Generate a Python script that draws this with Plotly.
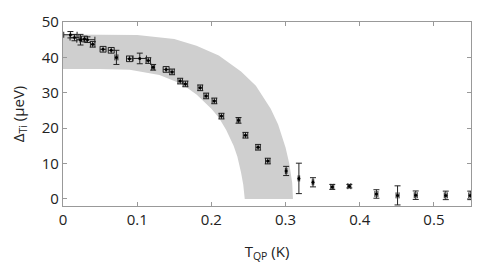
import plotly.graph_objects as go

# Measured points
t_qp = [0.010, 0.0155, 0.0236, 0.029, 0.033, 0.040, 0.054, 0.065, 0.072, 0.0896, 0.1035,
        0.115, 0.1215, 0.139, 0.147, 0.158, 0.165, 0.185, 0.193, 0.204, 0.2136, 0.2366,
        0.246, 0.263, 0.276, 0.3008, 0.318, 0.337, 0.363, 0.386, 0.4225, 0.451, 0.4755,
        0.516, 0.549]
delta = [46.4, 45.6, 45.0, 45.2, 45.0, 43.7, 42.3, 42.0, 40.0, 39.6, 39.7,
         39.1, 37.2, 36.6, 35.9, 33.3, 32.5, 31.4, 29.1, 27.7, 23.4, 22.2,
         18.0, 14.6, 10.7, 7.9, 5.8, 4.7, 3.4, 3.6, 1.4, 1.0, 1.05,
         1.0, 1.0]
delta_err = [0.9, 0.9, 1.5, 0.8, 0.8, 0.8, 0.8, 0.8, 2.0, 0.8, 1.5,
             0.8, 0.8, 0.8, 0.8, 0.8, 0.8, 0.8, 0.8, 0.8, 0.8, 0.8,
             0.8, 0.8, 0.8, 1.3, 4.3, 1.3, 0.7, 0.5, 1.2, 2.7, 1.2,
             1.2, 1.2]
t_err = [0.009, 0.006, 0.005, 0.004, 0.010, 0.003, 0.004, 0.004, 0.002, 0.004, 0.009,
         0.003, 0.002, 0.004, 0.003, 0.003, 0.003, 0.003, 0.003, 0.003, 0.003, 0.002,
         0.003, 0.003, 0.003, 0.001, 0.001, 0.001, 0.002, 0.002, 0.002, 0.002, 0.002,
         0.002, 0.002]

# Shaded band boundaries
outer_t = [0, 0.05, 0.10, 0.15, 0.18, 0.21, 0.24, 0.26, 0.28, 0.29, 0.30, 0.305, 0.309, 0.31]
outer_d = [46.5, 46.5, 46.3, 45.2, 43.3, 40.5, 36.0, 32.0, 25.5, 21.0, 14.5, 10.0, 4.5, 0]
inner_t = [0, 0.05, 0.09, 0.13, 0.16, 0.18, 0.20, 0.21, 0.22, 0.23, 0.235, 0.24, 0.243, 0.245]
inner_d = [36.7, 36.7, 36.5, 35.0, 32.5, 29.5, 25.5, 23.0, 19.5, 15.0, 12.0, 7.5, 4.0, 0]

x_ticks = [0, 0.1, 0.2, 0.3, 0.4, 0.5]
x_tick_text = ["0", "0.1", "0.2", "0.3", "0.4", "0.5"]
y_ticks = [0, 10, 20, 30, 40, 50]

band_x = outer_t + inner_t[::-1]
band_y = outer_d + inner_d[::-1]

fig = go.Figure()
fig.add_trace(go.Scatter(x=band_x, y=band_y, mode="lines", fill="toself",
                         fillcolor="#cfcfcf", line=dict(width=0, color="#cfcfcf"),
                         hoverinfo="skip", showlegend=False))
fig.add_trace(go.Scatter(
    x=t_qp, y=delta, mode="markers",
    marker=dict(color="black", size=3),
    error_y=dict(type="data", array=delta_err, color="#222", thickness=1, width=3),
    error_x=dict(type="data", array=t_err, color="#222", thickness=1, width=3),
    showlegend=False, cliponaxis=False))

font = dict(family="Open Sans, Liberation Sans, sans-serif", size=15, color="#222")
axis_common = dict(showgrid=False, zeroline=False, showline=True, linecolor="#999",
                   linewidth=1.2, mirror="ticks", ticks="inside", ticklen=4,
                   tickcolor="#999", tickfont=font, automargin=False)
fig.update_xaxes(range=[0, 0.55], tickvals=x_ticks, ticktext=x_tick_text,
                 title=dict(text="T<sub>QP</sub> (K)", font=font, standoff=18),
                 **axis_common)
fig.update_yaxes(range=[-2, 50], tickvals=y_ticks,
                 title=dict(text="Δ<sub>Ti</sub> (μeV)", font=font, standoff=14),
                 **axis_common)
# page body adds an 8px offset; compensate so plot area matches the reference
fig.update_layout(width=476, height=264, margin=dict(l=55, r=13, t=14, b=66, autoexpand=False),
                  plot_bgcolor="white", paper_bgcolor="white")
fig.write_html("out.html")
